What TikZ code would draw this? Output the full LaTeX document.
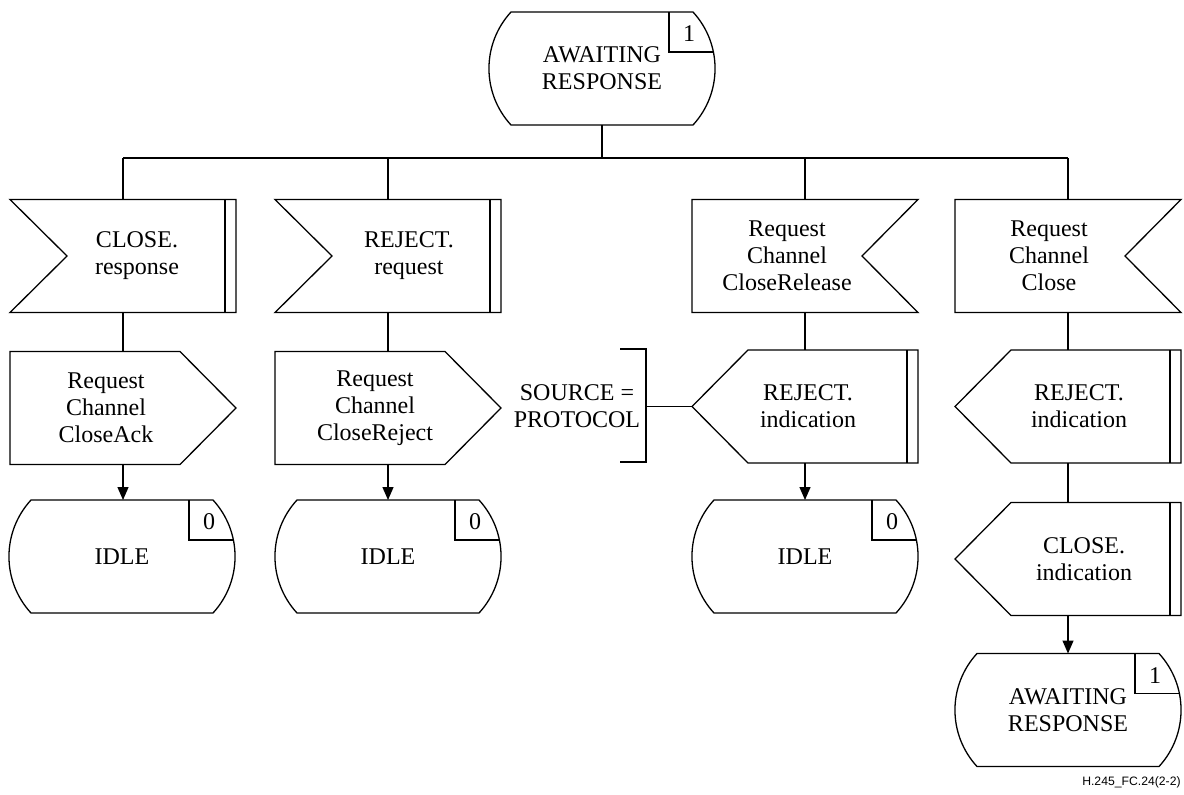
\documentclass[tikz,border=0pt]{standalone}
\usepackage{fontspec}
\setmainfont{Liberation Serif}
\newfontfamily\footfont{Liberation Sans}
\usetikzlibrary{arrows.meta}
\tikzset{
  ln/.style={line width=0.65pt, line join=miter},
  busline/.style={line width=1pt},
  shapebox/.style={minimum width=113pt, minimum height=56.5pt, inner sep=0pt, outer sep=0pt},
  txt/.style={align=center, inner sep=0pt, font=\fontsize{12}{13.5}\selectfont},
  arr/.style={ln, -{Triangle[length=6.5pt,width=5.5pt]}},
}
% state: name, cx, cy, text, number
\newcommand{\sdlstate}[5]{%
  \node[shapebox] (#1) at (#2,#3) {};
  \draw[ln] ({#2-91},{#3-56.5}) -- ({#2+91},{#3-56.5})
    .. controls ({#2+120.4},{#3-24.5}) and ({#2+120.4},{#3+24.5}) .. ({#2+91},{#3+56.5})
    -- ({#2-91},{#3+56.5})
    .. controls ({#2-120.4},{#3+24.5}) and ({#2-120.4},{#3-24.5}) .. cycle;
  \draw[ln] ({#2+67},{#3-56.5}) -- ({#2+67},{#3-16.5}) -- ({#2+111.35},{#3-16.5});
  \node[txt] (#1-t) at (#2,#3) {#4};
  \node[txt] (#1-n) at ({#2+87},{#3-34.5}) {#5};
}
% input, notch left, bar right: name, cx, cy, text x, text
\newcommand{\sdlinL}[5]{%
  \node[shapebox] (#1) at (#2,#3) {};
  \draw[ln] ({#2-113},{#3-56.5}) -- ({#2+113},{#3-56.5}) -- ({#2+113},{#3+56.5})
    -- ({#2-113},{#3+56.5}) -- ({#2-56},{#3}) -- cycle;
  \draw[ln] ({#2+102},{#3-56.5}) -- ({#2+102},{#3+56.5});
  \node[txt] (#1-t) at (#4,#3) {#5};
}
% input, notch right
\newcommand{\sdlinR}[5]{%
  \node[shapebox] (#1) at (#2,#3) {};
  \draw[ln] ({#2-113},{#3-56.5}) -- ({#2+113},{#3-56.5}) -- ({#2+57},{#3})
    -- ({#2+113},{#3+56.5}) -- ({#2-113},{#3+56.5}) -- cycle;
  \node[txt] (#1-t) at (#4,#3) {#5};
}
% output pointing right
\newcommand{\sdloutR}[5]{%
  \node[shapebox] (#1) at (#2,#3) {};
  \draw[ln] ({#2-113},{#3-56.5}) -- ({#2+57},{#3-56.5}) -- ({#2+113},{#3})
    -- ({#2+57},{#3+56.5}) -- ({#2-113},{#3+56.5}) -- cycle;
  \node[txt] (#1-t) at (#4,#3) {#5};
}
% output pointing left, bar right
\newcommand{\sdloutL}[5]{%
  \node[shapebox] (#1) at (#2,#3) {};
  \draw[ln] ({#2-113},{#3}) -- ({#2-57},{#3-56.5}) -- ({#2+113},{#3-56.5})
    -- ({#2+113},{#3+56.5}) -- ({#2-57},{#3+56.5}) -- cycle;
  \draw[ln] ({#2+102},{#3-56.5}) -- ({#2+102},{#3+56.5});
  \node[txt] (#1-t) at (#4,#3) {#5};
}
\begin{document}
\begin{tikzpicture}[x=0.5pt, y=-0.5pt]
\fill[white] (0,0) rectangle (1184,794);
\useasboundingbox (0,0) rectangle (1184,794);

\sdlstate{s0}{602}{68.5}{AWAITING\\RESPONSE}{1}

\coordinate (busC) at (602,158);
\coordinate (busL) at (123,158);
\coordinate (busR) at (1068,158);

\sdlinL{in1}{123}{256}{137}{CLOSE.\\response}
\sdlinL{in2}{388}{256}{409}{REJECT.\\request}
\sdlinR{in3}{805}{256}{787}{Request\\Channel\\CloseRelease}
\sdlinR{in4}{1068}{256}{1049}{Request\\Channel\\Close}

\sdloutR{out1}{123}{408}{106}{Request\\Channel\\CloseAck}
\sdloutR{out2}{388}{408}{375}{Request\\Channel\\CloseReject}
\sdloutL{out3}{805}{406.5}{808}{REJECT.\\indication}
\sdloutL{out4}{1068}{406.5}{1079}{REJECT.\\indication}
\sdloutL{out5}{1068}{559}{1084}{CLOSE.\\indication}

\sdlstate{idle1}{122}{556.5}{IDLE}{0}
\sdlstate{idle2}{388}{556.5}{IDLE}{0}
\sdlstate{idle3}{805}{556.5}{IDLE}{0}
\sdlstate{s1}{1068}{710}{AWAITING\\RESPONSE}{1}

% comment
\node[txt] (cm) at (577,406) {SOURCE =\\PROTOCOL};
\coordinate (cmb) at (646,406.5);
\draw[ln] (620,349) -- (646,349) -- (646,462) -- (620,462);
\draw[ln] (cmb) -- (out3.west);

% connectors
\draw[ln] (s0.south) -- (busC);
\draw[busline] (busL) -- (busR);
\draw[ln] (in1.north) -- (in1.north |- busC);
\draw[ln] (in2.north) -- (in2.north |- busC);
\draw[ln] (in3.north) -- (in3.north |- busC);
\draw[ln] (in4.north) -- (in4.north |- busC);

\draw[ln] (in1.south) -- (out1.north);
\draw[ln] (in2.south) -- (out2.north);
\draw[ln] (in3.south) -- (out3.north);
\draw[ln] (in4.south) -- (out4.north);
\draw[ln] (out4.south) -- (out5.north);

\draw[arr] (out1.south) -- (out1.south |- idle1.north);
\draw[arr] (out2.south) -- (idle2.north);
\draw[arr] (out3.south) -- (idle3.north);
\draw[arr] (out5.south) -- (s1.north);

\node[anchor=east, inner sep=0pt, font=\footfont\fontsize{6.1}{7}\selectfont] (ft) at (1181,782) {H.245\_FC.24(2-2)};
\end{tikzpicture}
\end{document}
